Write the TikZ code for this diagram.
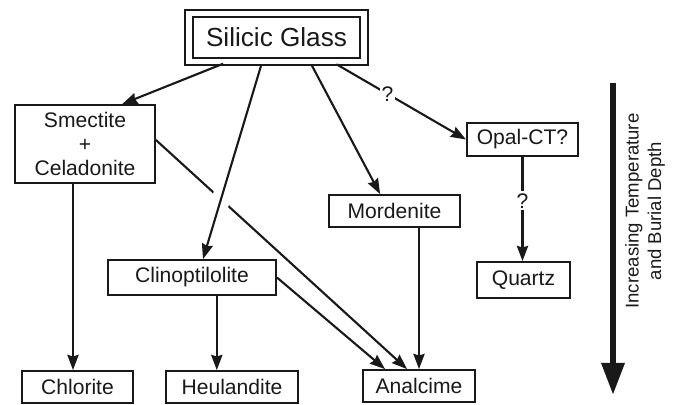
\documentclass[tikz,border=0pt]{standalone}
\usepackage{fontspec}
\setmainfont{Liberation Sans}
\usetikzlibrary{calc,positioning,arrows.meta}
\definecolor{ink}{RGB}{25,25,25}

\begin{document}
\begin{tikzpicture}[
        x=0.025cm,y=-0.025cm,
        box/.style={draw=ink,line width=1.3pt,fill=white,inner sep=0pt,
          font=\fontsize{15}{17}\selectfont,text=ink},
        arr/.style={-{Stealth[length=3.8mm,width=2.8mm,inset=0.4mm]},line width=1.5pt,draw=ink},
        qmark/.style={fill=white,inner sep=1.5pt,font=\fontsize{15}{17}\selectfont,text=ink}
      ]
      \useasboundingbox (0,0) rectangle (676,405);

      \node[box,double,double distance=0.14cm,minimum width=4.375cm,minimum height=1.19cm,
        font=\fontsize{18.6}{20}\selectfont] (glass) at (276.5,37.5) {Silicic Glass};
      \node[box,align=center,minimum width=3.5cm,minimum height=1.95cm] (smect) at (85,144)
        {Smectite\\+\\Celadonite};
      \node[box,minimum width=2.78cm,minimum height=0.83cm] (opal) at (522.5,139.5) {Opal-CT?};
      \node[box,minimum width=3.28cm,minimum height=0.8cm] (morden) at (394.5,211) {Mordenite};
      \node[box,minimum width=2.33cm,minimum height=0.9cm] (quartz) at (523.5,280) {Quartz};
      \node[box,minimum width=4.2cm,minimum height=0.875cm] (clino) at (192,277.5) {Clinoptilolite};
      \node[box,minimum width=2.78cm,minimum height=0.8cm] (chlor) at (77.5,387) {Chlorite};
      \node[box,minimum width=3.3cm,minimum height=0.8cm] (heul) at (232,387) {Heulandite};
      \node[box,minimum width=2.8cm,minimum height=0.8cm] (analc) at (419,386) {Analcime};

      \draw[arr,shorten <=0.1cm] ([xshift=-1.24cm]glass.south) -- ([xshift=0.93cm]smect.north);
      \draw[arr,shorten <=0.1cm] ([xshift=0.84cm]glass.south) -- ([xshift=-0.36cm]morden.north);
      \draw[arr,shorten <=0.1cm] ([xshift=1.41cm]glass.south) -- node[qmark,pos=0.41] {?} (opal.west);
      \draw[arr] (opal.south) -- node[qmark,pos=0.42] {?} (opal.south |- quartz.north);
      \draw[arr] ([yshift=0.1cm]smect.east) -- ([xshift=-0.3cm]analc.north);
      \draw[white,line width=13pt,shorten <=3.0cm,shorten >=1.3cm]
        ([xshift=-0.36cm]glass.south) -- ([xshift=0.275cm]clino.north);
      \draw[arr,shorten <=0.1cm] ([xshift=-0.36cm]glass.south) -- ([xshift=0.275cm]clino.north);
      \draw[arr] (clino.east) -- ([xshift=-0.85cm]analc.north);
      \draw[arr] (morden.south -| analc.north) -- (analc.north);
      \draw[arr] ([xshift=-0.3cm]smect.south) -- ([xshift=-0.3cm]smect.south |- chlor.north);
      \draw[arr] ([xshift=0.62cm]clino.south) -- ([xshift=0.62cm]clino.south |- heul.north);

      \coordinate (deep0) at (613,83);
      \coordinate (deep1) at (613,395);
      \draw[line width=4.4pt,draw=ink,-{Triangle[length=0.8cm,width=0.55cm]}] (deep0) -- (deep1);
      \node[rotate=90,align=center,text=ink,font=\fontsize{13.2}{16}\selectfont] (depth) at (645,211)
        {Increasing Temperature\\and Burial Depth};
    \end{tikzpicture}
\end{document}
